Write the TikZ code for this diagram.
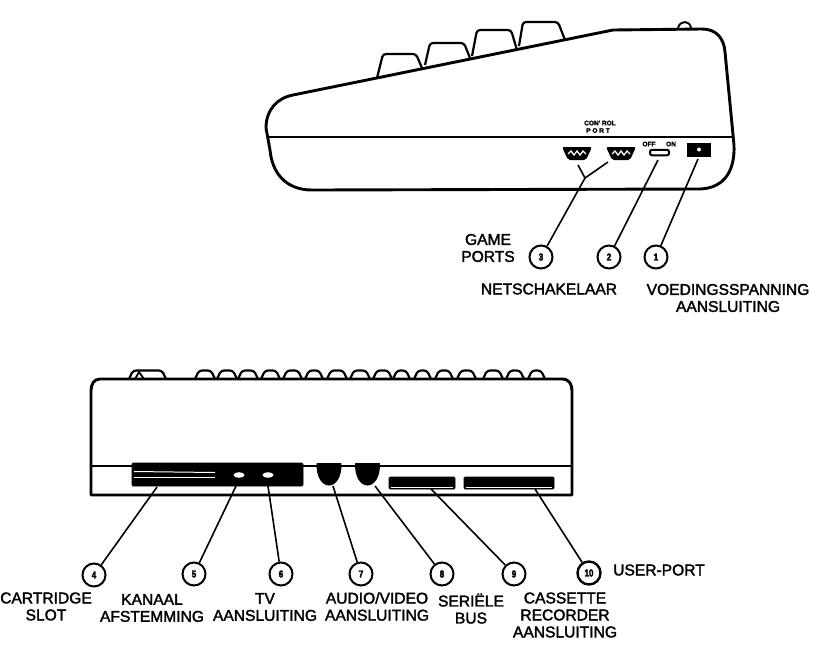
\documentclass[tikz,border=0pt]{standalone}
\usepackage{fontspec}
\setmainfont{Liberation Sans}
\newfontfamily\lab[FakeBold=2]{Liberation Sans}
\newfontfamily\labb[FakeBold=3,FakeStretch=0.8]{Liberation Sans Bold}
\newfontfamily\labc[FakeBold=2]{Liberation Sans Bold}
\tikzset{
  body/.style={line width=2.9pt,black,line join=round,line cap=round},
  thinbody/.style={line width=1.9pt,black},
  lead/.style={line width=1.6pt,black},
  keytop/.style={line width=2.2pt,black,rounded corners=3pt,line join=round},
  num/.style={circle,draw=black,line width=2pt,minimum size=23pt,inner sep=0pt,font=\labb\fontsize{10}{10}\selectfont},
  lbl/.style={inner sep=0pt,align=center,font=\lab\fontsize{15.6}{17}\selectfont},
  tiny/.style={inner sep=0pt,font=\labc\fontsize{6.5}{6.5}\selectfont},
  blk/.style={fill=black,draw=black,line width=0.6pt,rounded corners=1pt},
}
\begin{document}
\begin{tikzpicture}[x=1pt,y=-1pt]
\useasboundingbox (0,0) rectangle (827,657);
% upper case
\draw[body] (293,95) -- (613,30) -- (702,29)
  .. controls (716,29) and (724,38) .. (725,52)
  -- (734,145) .. controls (735,170) and (725,188) .. (700,189)
  -- (312,190) .. controls (285,190) and (272,172) .. (270,150)
  -- (266,128) .. controls (266,110) and (277,98) .. (293,95);
\draw[thinbody] (267,137) -- (734,137);
\draw[keytop] (377,78) -- (383,54) -- (416,54) -- (422,68);
\draw[keytop] (425,65) -- (430,43) -- (464,43) -- (470,58);
\draw[keytop] (472,56) -- (477,30) -- (511,30) -- (517,50);
\draw[keytop] (519,46) -- (523,22) -- (558,22) -- (565,40);
\draw[thinbody] (678,28) .. controls (680,20) and (690,20) .. (691,28);
% ports
\foreach \c/\n in {577/pl,621/pr}{
  \fill[black,rounded corners=2pt] ({\c-15},147) -- ({\c+15},147) -- ({\c+9},160) -- ({\c-9},160) -- cycle;
  \draw[white,line width=1.3pt] ({\c-9},154) -- ({\c-6},151) -- ({\c-3},155) -- (\c,151) -- ({\c+3},155) -- ({\c+6},151) -- ({\c+9},154);
  \coordinate (\n) at (\c,160);
}
\node[tiny] (ctl) at (600,123) {CON' ROL};
\node[tiny] (prt) at (598,130.5) {P O R T};
\node[tiny] (off) at (649,144) {OFF};
\node[tiny] (on) at (671,144) {ON};
\node[draw=black,line width=2pt,rounded corners=2pt,minimum width=19pt,minimum height=5.5pt,inner sep=0pt] (sw) at (659.5,152.5) {};
\node[fill=black,minimum width=24pt,minimum height=14pt,inner sep=0pt] (pw) at (699,150) {};
\fill[white] (699,149.5) circle (2pt);
% upper leaders
\coordinate (j3) at (585,178);
\coordinate (fa) at (578,165);
\coordinate (fb) at (608,162);
\coordinate (t2) at (658,160);
\coordinate (t1) at (698,159);
\node[num] (n3) at (541,257) {3};
\node[num] (n2) at (609,257) {2};
\node[num] (n1) at (656,257) {1};
\draw[lead] (fa) -- (j3) -- (fb);
\draw[lead] (n3) -- (j3);
\draw[lead] (n2) -- (t2);
\draw[lead] (n1) -- (t1);
\node[lbl] (l3) at (488,248) {GAME\\[0pt]PORTS};
\node[lbl] (l2) at (549,289) {NETSCHAKELAAR};
\node[lbl] (l1) at (728,298) {VOEDINGSSPANNING\\[0pt]AANSLUITING};
% lower case
\draw[body] (100,379) -- (562,379) .. controls (569,379) and (572,384) .. (572,391)
  -- (572,495) -- (91,495) -- (91,391) .. controls (91,384) and (94,379) .. (100,379);
\draw[thinbody] (91,466) -- (572,466);
\foreach \a/\b in {129/166,195/215,217/237,238/258,261/280,283/302,305/323,327/347,350/370,373/392,393/410,414/431,435/453,457/476,483/503,506/524,528/545}{
  \draw[keytop] (\a,379) -- ({\a+4},370.5) -- ({\b-4},370.5) -- (\b,379);
}
\draw[line width=1.8pt] (135,379) -- (139,372) -- (144,379);
% panel
\node[blk,minimum width=171pt,minimum height=23pt,inner sep=0pt] (panel) at (217.5,474.5) {};
\draw[white,line width=1pt] (134,471.5) -- (215,472.5);
\draw[white,line width=1pt] (134,477) -- (215,477);
\fill[white] (239,475) ellipse (5.5pt and 2.8pt);
\fill[white] (268,475) ellipse (5.5pt and 2.8pt);
\foreach \c in {329,367.5}{
  \fill[black] ({\c-12.5},463) -- ({\c+12.5},463)
    .. controls ({\c+13},477) and ({\c+7},485.5) .. (\c,485.5)
    .. controls ({\c-7},485.5) and ({\c-13},477) .. ({\c-12.5},463) -- cycle;
}
\node[blk,minimum width=66pt,minimum height=12pt,inner sep=0pt] (s9) at (422,483) {};
\node[blk,minimum width=90pt,minimum height=12pt,inner sep=0pt] (s10) at (509,483) {};
\draw[white,line width=0.8pt] (391,487) -- (453,487);
\draw[white,line width=0.8pt] (466,487) -- (552,487);
% lower leaders
\coordinate (t4) at (157,487);
\coordinate (t5) at (236,486);
\coordinate (t6) at (268,486);
\coordinate (t7) at (333,486);
\coordinate (t8) at (375,486);
\coordinate (t9) at (431,489);
\coordinate (t10) at (535,489);
\node[num] (n4) at (94,575) {4};
\node[num] (n5) at (194,574) {5};
\node[num] (n6) at (281,574) {6};
\node[num] (n7) at (361,574) {7};
\node[num] (n8) at (442,574) {8};
\node[num] (n9) at (514,574) {9};
\node[num,line width=2.4pt] (n10) at (589,573) {10};
\foreach \i in {4,...,10}{ \draw[lead] (n\i) -- (t\i); }
\node[lbl] (l4) at (46,606.5) {CARTRIDGE\\[0pt]SLOT};
\node[lbl] (l5) at (152,608) {KANAAL\\[0pt]AFSTEMMING};
\node[lbl] (l6) at (265,607) {TV\\[0pt]AANSLUITING};
\node[lbl] (l7) at (377,606.5) {AUDIO/VIDEO\\[0pt]AANSLUITING};
\node[lbl] (l8) at (471,608.5) {SERIËLE\\[0pt]BUS};
\node[lbl] (l9) at (565,615) {CASSETTE\\[0pt]RECORDER\\[0pt]AANSLUITING};
\node[lbl,anchor=west] (l10) at (613,570) {USER-PORT};
\end{tikzpicture}
\end{document}
